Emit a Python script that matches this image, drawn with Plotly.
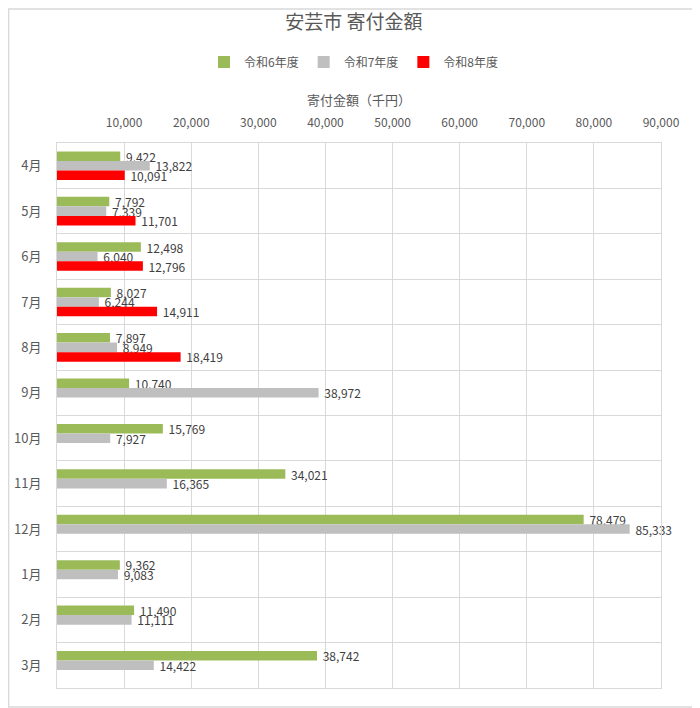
import plotly.graph_objects as go

months = ["4月", "5月", "6月", "7月", "8月", "9月", "10月", "11月", "12月", "1月", "2月", "3月"]
r6 = [9422, 7792, 12498, 8027, 7897, 10740, 15769, 34021, 78479, 9362, 11490, 38742]
r7 = [13822, 7339, 6040, 6244, 8949, 38972, 7927, 16365, 85333, 9083, 11111, 14422]
r8 = [10091, 11701, 12796, 14911, 18419, None, None, None, None, None, None, None]
series_names = ["令和6年度", "令和7年度", "令和8年度"]
x_ticks = [10000, 20000, 30000, 40000, 50000, 60000, 70000, 80000, 90000]

colors = ["#9BBB59", "#BFBFBF", "#FF0000"]
FONT = "Noto Sans CJK JP"
GRID = "#D9D9D9"

# page body has an 8px margin, so the figure is sized to fit inside the window
W, H = 692, 700
L, T, R, B = 49, 135, 39, 20

fig = go.Figure()
for name, vals, col in zip(series_names, [r6, r7, r8], colors):
    fig.add_trace(go.Bar(
        y=months, x=vals, name=name, orientation="h",
        marker=dict(color=col, line=dict(width=0)),
        text=["\u00a0" + f"{v:,}" if v is not None else "" for v in vals],
        textposition="outside",
        textfont=dict(size=12, color="#404040", family=FONT),
        cliponaxis=False,
    ))

pw, ph = W - L - R, H - T - B
fig.update_layout(
    width=W, height=H,
    barmode="group", bargap=0.37, bargroupgap=0,
    paper_bgcolor="white", plot_bgcolor="white",
    font=dict(family=FONT, color="#595959"),
    margin=dict(l=L, r=R, t=T, b=B, autoexpand=False),
    title=dict(text="安芸市 寄付金額", x=0.5, xanchor="center",
               y=1 - 14 / H, yanchor="middle",
               font=dict(size=19, color="#595959", family=FONT)),
    legend=dict(orientation="h", xref="container", x=0.5, xanchor="center",
                yref="container", y=1 - 54 / H, yanchor="middle",
                font=dict(size=12, color="#595959"), traceorder="normal",
                itemwidth=30),
    uniformtext=dict(minsize=12, mode="show"),
    xaxis=dict(
        side="top", range=[0, 90000], automargin=False,
        tickvals=x_ticks, ticktext=[f"{v:,}" for v in x_ticks],
        tickfont=dict(size=12, color="#595959"), ticklabelstandoff=10,
        showgrid=True, gridcolor=GRID, gridwidth=1,
        zeroline=False, showline=True, mirror=True, linecolor=GRID, ticks="",
        title=dict(text="寄付金額（千円）", font=dict(size=13, color="#595959"), standoff=4),
    ),
    yaxis=dict(
        autorange="reversed", type="category", automargin=False,
        tickson="boundaries", showgrid=True, gridcolor=GRID, gridwidth=1,
        ticks="", tickfont=dict(size=13, color="#595959"),
        showline=True, mirror=True, linecolor=GRID, linewidth=1,
        ticklabelstandoff=12,
    ),
    shapes=[dict(type="rect", xref="paper", yref="paper",
                 x0=-L / pw + 0.001, x1=1 + (R - 1) / pw,
                 y0=-(B - 1) / ph, y1=1 + (T - 1) / ph,
                 line=dict(color=GRID, width=1.5), layer="below")],
)

fig.write_html("out.html")
